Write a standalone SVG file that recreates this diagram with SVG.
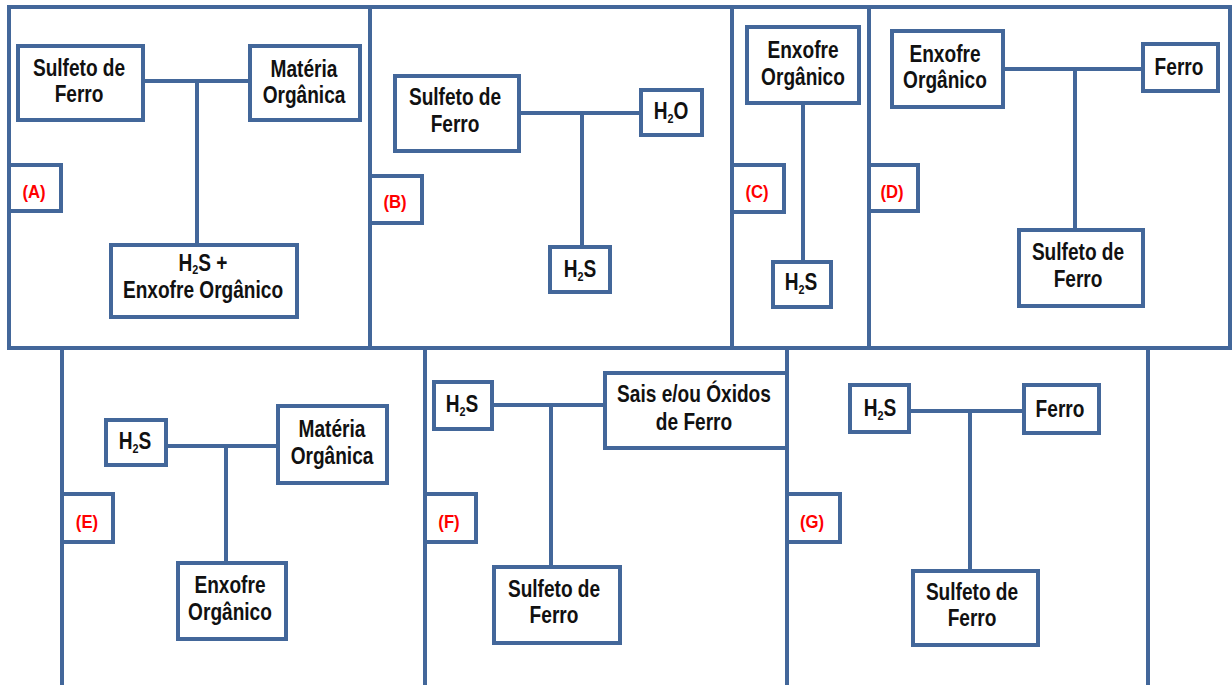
<svg xmlns="http://www.w3.org/2000/svg" width="1232" height="685" viewBox="0 0 1232 685">
<style>
.fr{fill:none;stroke:#43679A;stroke-width:4}
.bx{fill:#fff;stroke:#43679A;stroke-width:4}
.ln{fill:none;stroke:#43679A;stroke-width:4}
.t{font-family:"Liberation Sans",Arial,sans-serif;font-weight:bold;font-size:23px;fill:#111;text-anchor:middle;transform-box:fill-box;transform-origin:center;transform:scaleX(0.83)}
.lb{font-family:"Liberation Sans",Arial,sans-serif;font-weight:bold;font-size:19px;fill:#FF0000;text-anchor:middle;transform-box:fill-box;transform-origin:center;transform:scaleX(0.88)}
.sb{font-size:13px}
</style>
<rect width="1232" height="685" fill="#fff"/>
<g id="frames">
<rect class="fr" x="9" y="7" width="1221" height="341"/>
<line class="fr" x1="370" y1="7" x2="370" y2="348"/>
<line class="fr" x1="732" y1="7" x2="732" y2="348"/>
<line class="fr" x1="869" y1="7" x2="869" y2="348"/>
<line class="fr" x1="62" y1="348" x2="62" y2="685"/>
<line class="fr" x1="425" y1="348" x2="425" y2="685"/>
<line class="fr" x1="787" y1="348" x2="787" y2="685"/>
<line class="fr" x1="1148" y1="348" x2="1148" y2="685"/>
</g>
<g id="connectors">
<path class="ln" d="M143 81H250M197 81V245"/>
<path class="ln" d="M519 113H641M582 113V247"/>
<path class="ln" d="M803 103V262"/>
<path class="ln" d="M1003 69H1143M1075 69V230"/>
<path class="ln" d="M166 446H278M226 446V563"/>
<path class="ln" d="M492 405H605M551 405V567"/>
<path class="ln" d="M909 411H1024M970 411V571"/>
</g>
<g id="labelA"><rect class="bx" x="9" y="165" width="52" height="46"/><text class="lb" x="34" y="198">(A)</text></g>
<g id="labelB"><rect class="bx" x="370" y="176" width="52" height="47"/><text class="lb" x="395" y="208">(B)</text></g>
<g id="labelC"><rect class="bx" x="732" y="165" width="52" height="47"/><text class="lb" x="757" y="198">(C)</text></g>
<g id="labelD"><rect class="bx" x="869" y="165" width="49" height="46"/><text class="lb" x="892" y="198">(D)</text></g>
<g id="labelE"><rect class="bx" x="62" y="494" width="51" height="48"/><text class="lb" x="87" y="528">(E)</text></g>
<g id="labelF"><rect class="bx" x="425" y="494" width="51" height="48"/><text class="lb" x="449" y="528">(F)</text></g>
<g id="labelG"><rect class="bx" x="787" y="494" width="53" height="48"/><text class="lb" x="812" y="528">(G)</text></g>

<g id="A1"><rect class="bx" x="18" y="46" width="125" height="74"/><text class="t" x="79" y="76">Sulfeto de<tspan x="79" y="102">Ferro</tspan></text></g>
<g id="A2"><rect class="bx" x="250" y="46" width="110" height="74"/><text class="t" x="304" y="77">Matéria<tspan x="304" y="103">Orgânica</tspan></text></g>
<g id="A3"><rect class="bx" x="111" y="245" width="186" height="72"/><text class="t" x="203" y="271">H<tspan class="sb" dy="3">2</tspan><tspan dy="-3">S +</tspan><tspan x="203" y="298">Enxofre Orgânico</tspan></text></g>

<g id="B1"><rect class="bx" x="395" y="76" width="124" height="75"/><text class="t" x="455" y="105">Sulfeto de<tspan x="455" y="132">Ferro</tspan></text></g>
<g id="B2"><rect class="bx" x="641" y="90" width="61" height="45"/><text class="t" x="671" y="119">H<tspan class="sb" dy="4">2</tspan><tspan dy="-4">O</tspan></text></g>
<g id="B3"><rect class="bx" x="550" y="247" width="60" height="45"/><text class="t" x="580" y="277">H<tspan class="sb" dy="4">2</tspan><tspan dy="-4">S</tspan></text></g>

<g id="C1"><rect class="bx" x="747" y="27" width="112" height="76"/><text class="t" x="803" y="58">Enxofre<tspan x="803" y="85">Orgânico</tspan></text></g>
<g id="C2"><rect class="bx" x="773" y="262" width="58" height="45"/><text class="t" x="801" y="290">H<tspan class="sb" dy="4">2</tspan><tspan dy="-4">S</tspan></text></g>

<g id="D1"><rect class="bx" x="892" y="31" width="111" height="76"/><text class="t" x="945" y="62">Enxofre<tspan x="945" y="88">Orgânico</tspan></text></g>
<g id="D2"><rect class="bx" x="1143" y="44" width="75" height="47"/><text class="t" x="1179" y="75">Ferro</text></g>
<g id="D3"><rect class="bx" x="1019" y="230" width="124" height="76"/><text class="t" x="1078" y="260">Sulfeto de<tspan x="1078" y="287">Ferro</tspan></text></g>

<g id="E1"><rect class="bx" x="106" y="420" width="60" height="45"/><text class="t" x="135" y="449">H<tspan class="sb" dy="4">2</tspan><tspan dy="-4">S</tspan></text></g>
<g id="E2"><rect class="bx" x="278" y="406" width="109" height="77"/><text class="t" x="332" y="437">Matéria<tspan x="332" y="464">Orgânica</tspan></text></g>
<g id="E3"><rect class="bx" x="178" y="563" width="108" height="76"/><text class="t" x="230" y="593">Enxofre<tspan x="230" y="620">Orgânico</tspan></text></g>

<g id="F1"><rect class="bx" x="434" y="382" width="58" height="47"/><text class="t" x="462" y="412">H<tspan class="sb" dy="4">2</tspan><tspan dy="-4">S</tspan></text></g>
<g id="F2"><rect class="bx" x="605" y="373" width="182" height="75"/><text class="t" x="694" y="402">Sais e/ou Óxidos<tspan x="694" y="430">de Ferro</tspan></text></g>
<g id="F3"><rect class="bx" x="494" y="567" width="126" height="76"/><text class="t" x="554" y="597">Sulfeto de<tspan x="554" y="623">Ferro</tspan></text></g>

<g id="G1"><rect class="bx" x="850" y="385" width="59" height="47"/><text class="t" x="880" y="416">H<tspan class="sb" dy="4">2</tspan><tspan dy="-4">S</tspan></text></g>
<g id="G2"><rect class="bx" x="1024" y="385" width="75" height="48"/><text class="t" x="1060" y="417">Ferro</text></g>
<g id="G3"><rect class="bx" x="913" y="571" width="125" height="74"/><text class="t" x="972" y="600">Sulfeto de<tspan x="972" y="626">Ferro</tspan></text></g>
</svg>
